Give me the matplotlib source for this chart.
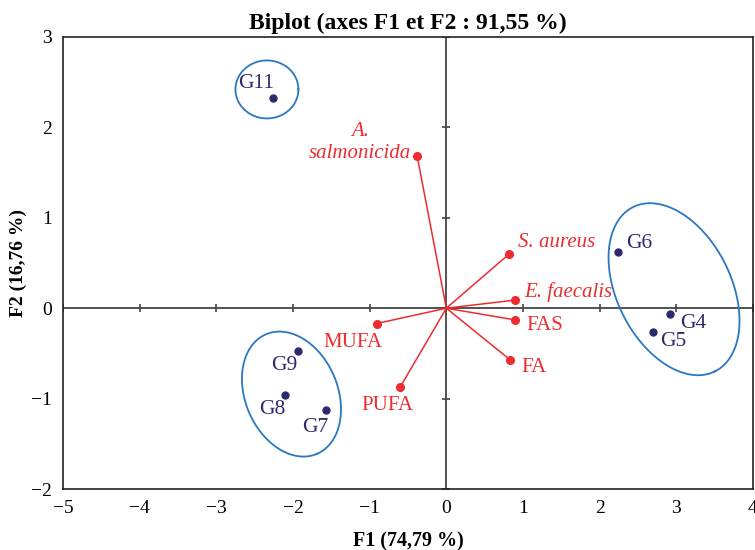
import numpy as np
import matplotlib
matplotlib.use("Agg")
import matplotlib.pyplot as plt

plt.rcParams['font.family'] = ['Liberation Serif', 'DejaVu Serif']

# ---- data ----
obs_names = ["G11", "G6", "G4", "G5", "G9", "G8", "G7"]
obs_x = [-2.26, 2.24, 2.92, 2.70, -1.94, -2.11, -1.57]
obs_y = [2.32, 0.62, -0.06, -0.26, -0.47, -0.96, -1.13]

var_names = ["A.\nsalmonicida", "S. aureus", "E. faecalis", "FAS", "FA", "MUFA", "PUFA"]
var_italic = [True, True, True, False, False, False, False]
var_x = [-0.38, 0.82, 0.90, 0.90, 0.83, -0.91, -0.60]
var_y = [1.68, 0.60, 0.09, -0.13, -0.57, -0.17, -0.87]

xticks = [-5, -4, -3, -2, -1, 0, 1, 2, 3, 4]
yticks = [-2, -1, 0, 1, 2, 3]

# group ellipses: centre (data), semi-axes (px), angle (deg, screen)
ell_cx = [-2.34, 2.97, -2.02]
ell_cy = [2.42, 0.21, -0.95]
ell_a = [31.5, 91.8, 65.0]
ell_b = [29.0, 57.1, 46.2]
ell_ang = [0.0, -63.5, -67.0]

# ---- styling ----
red = '#ee2b2f'
navy = '#2b2a6b'
blue = '#2a78c2'
axcol = '#444444'

W, H = 755, 550
fig = plt.figure(figsize=(W / 100, H / 100), dpi=100)
left, right, top, bottom = 63, 753, 37, 489
ax = fig.add_axes([left / W, 1 - bottom / H, (right - left) / W, (bottom - top) / H])
ax.set_xlim(-5, 4)
ax.set_ylim(-2, 3)
ax.set_xticks(xticks)
ax.set_yticks(yticks)
ax.set_xticklabels([str(t).replace('-', '\u2212') for t in xticks], fontsize=14)
ax.set_yticklabels([str(t).replace('-', '\u2212') for t in yticks], fontsize=14)
ax.tick_params(axis='x', length=0, pad=8)
ax.tick_params(axis='y', length=0, pad=8)
for s in ax.spines.values():
    s.set_color('#222222')
    s.set_linewidth(1.2)

ax.set_title("Biplot (axes F1 et F2 : 91,55 %)", fontsize=17, fontweight='bold', pad=6)
ax.set_xlabel("F1 (74,79 %)", fontsize=14.5, fontweight='bold', labelpad=10)
ax.set_ylabel("F2 (16,76 %)", fontsize=14, fontweight='bold')
ax.yaxis.set_label_coords(-0.052, 0.5)

# central axes
ax.axhline(0, color=axcol, lw=1.3, zorder=1)
ax.axvline(0, color=axcol, lw=1.3, zorder=1)
ax.plot(xticks, [0] * len(xticks), ls='none', marker='|', ms=6, mew=1.2, color=axcol, zorder=1)
ax.plot([0] * len(yticks), yticks, ls='none', marker='_', ms=6, mew=1.2, color=axcol, zorder=1)

# ellipses (built in pixel space, converted to data)
sx = (right - left) / 9.0
sy = (bottom - top) / 5.0
t = np.linspace(0, 2 * np.pi, 300)
for cx, cy, a, b, ang in zip(ell_cx, ell_cy, ell_a, ell_b, ell_ang):
    th = np.deg2rad(ang)
    px = a * np.cos(t) * np.cos(th) - b * np.sin(t) * np.sin(th)
    py = a * np.cos(t) * np.sin(th) + b * np.sin(t) * np.cos(th)
    ax.plot(cx + px / sx, cy + py / sy, color=blue, lw=1.3, zorder=2)

# variable vectors
for vx, vy in zip(var_x, var_y):
    ax.plot([0, vx], [0, vy], color=red, lw=1.1, zorder=3)
ax.plot(var_x, var_y, 'o', color=red, ms=5.5, zorder=4)

var_off = [(-6, 14), (9, 11), (9, 8), (11, -6), (11, -8), (-24, -19), (-13, -19)]
var_ha = ['right', 'left', 'left', 'left', 'left', 'center', 'center']
for name, vx, vy, it, off, ha in zip(var_names, var_x, var_y, var_italic, var_off, var_ha):
    ax.annotate(name, (vx, vy), xytext=(off[0] * 0.72, off[1] * 0.72), textcoords='offset points',
                ha=ha, va='center', color=red, fontsize=15,
                fontstyle='italic' if it else 'normal', multialignment='center',
                linespacing=1.2, zorder=5)

# observations
ax.plot(obs_x, obs_y, 'o', color=navy, ms=5, zorder=4)
obs_off = [(-17, 15), (8, 9), (10, -10), (7, -10), (-13, -15), (-12, -15), (-11, -17)]
obs_ha = ['center', 'left', 'left', 'left', 'center', 'center', 'center']
for name, ox, oy, off, ha in zip(obs_names, obs_x, obs_y, obs_off, obs_ha):
    ax.annotate(name, (ox, oy), xytext=(off[0] * 0.72, off[1] * 0.72), textcoords='offset points',
                ha=ha, va='center', color=navy, fontsize=15.5, zorder=5)

fig.savefig("out.png", dpi=100)
